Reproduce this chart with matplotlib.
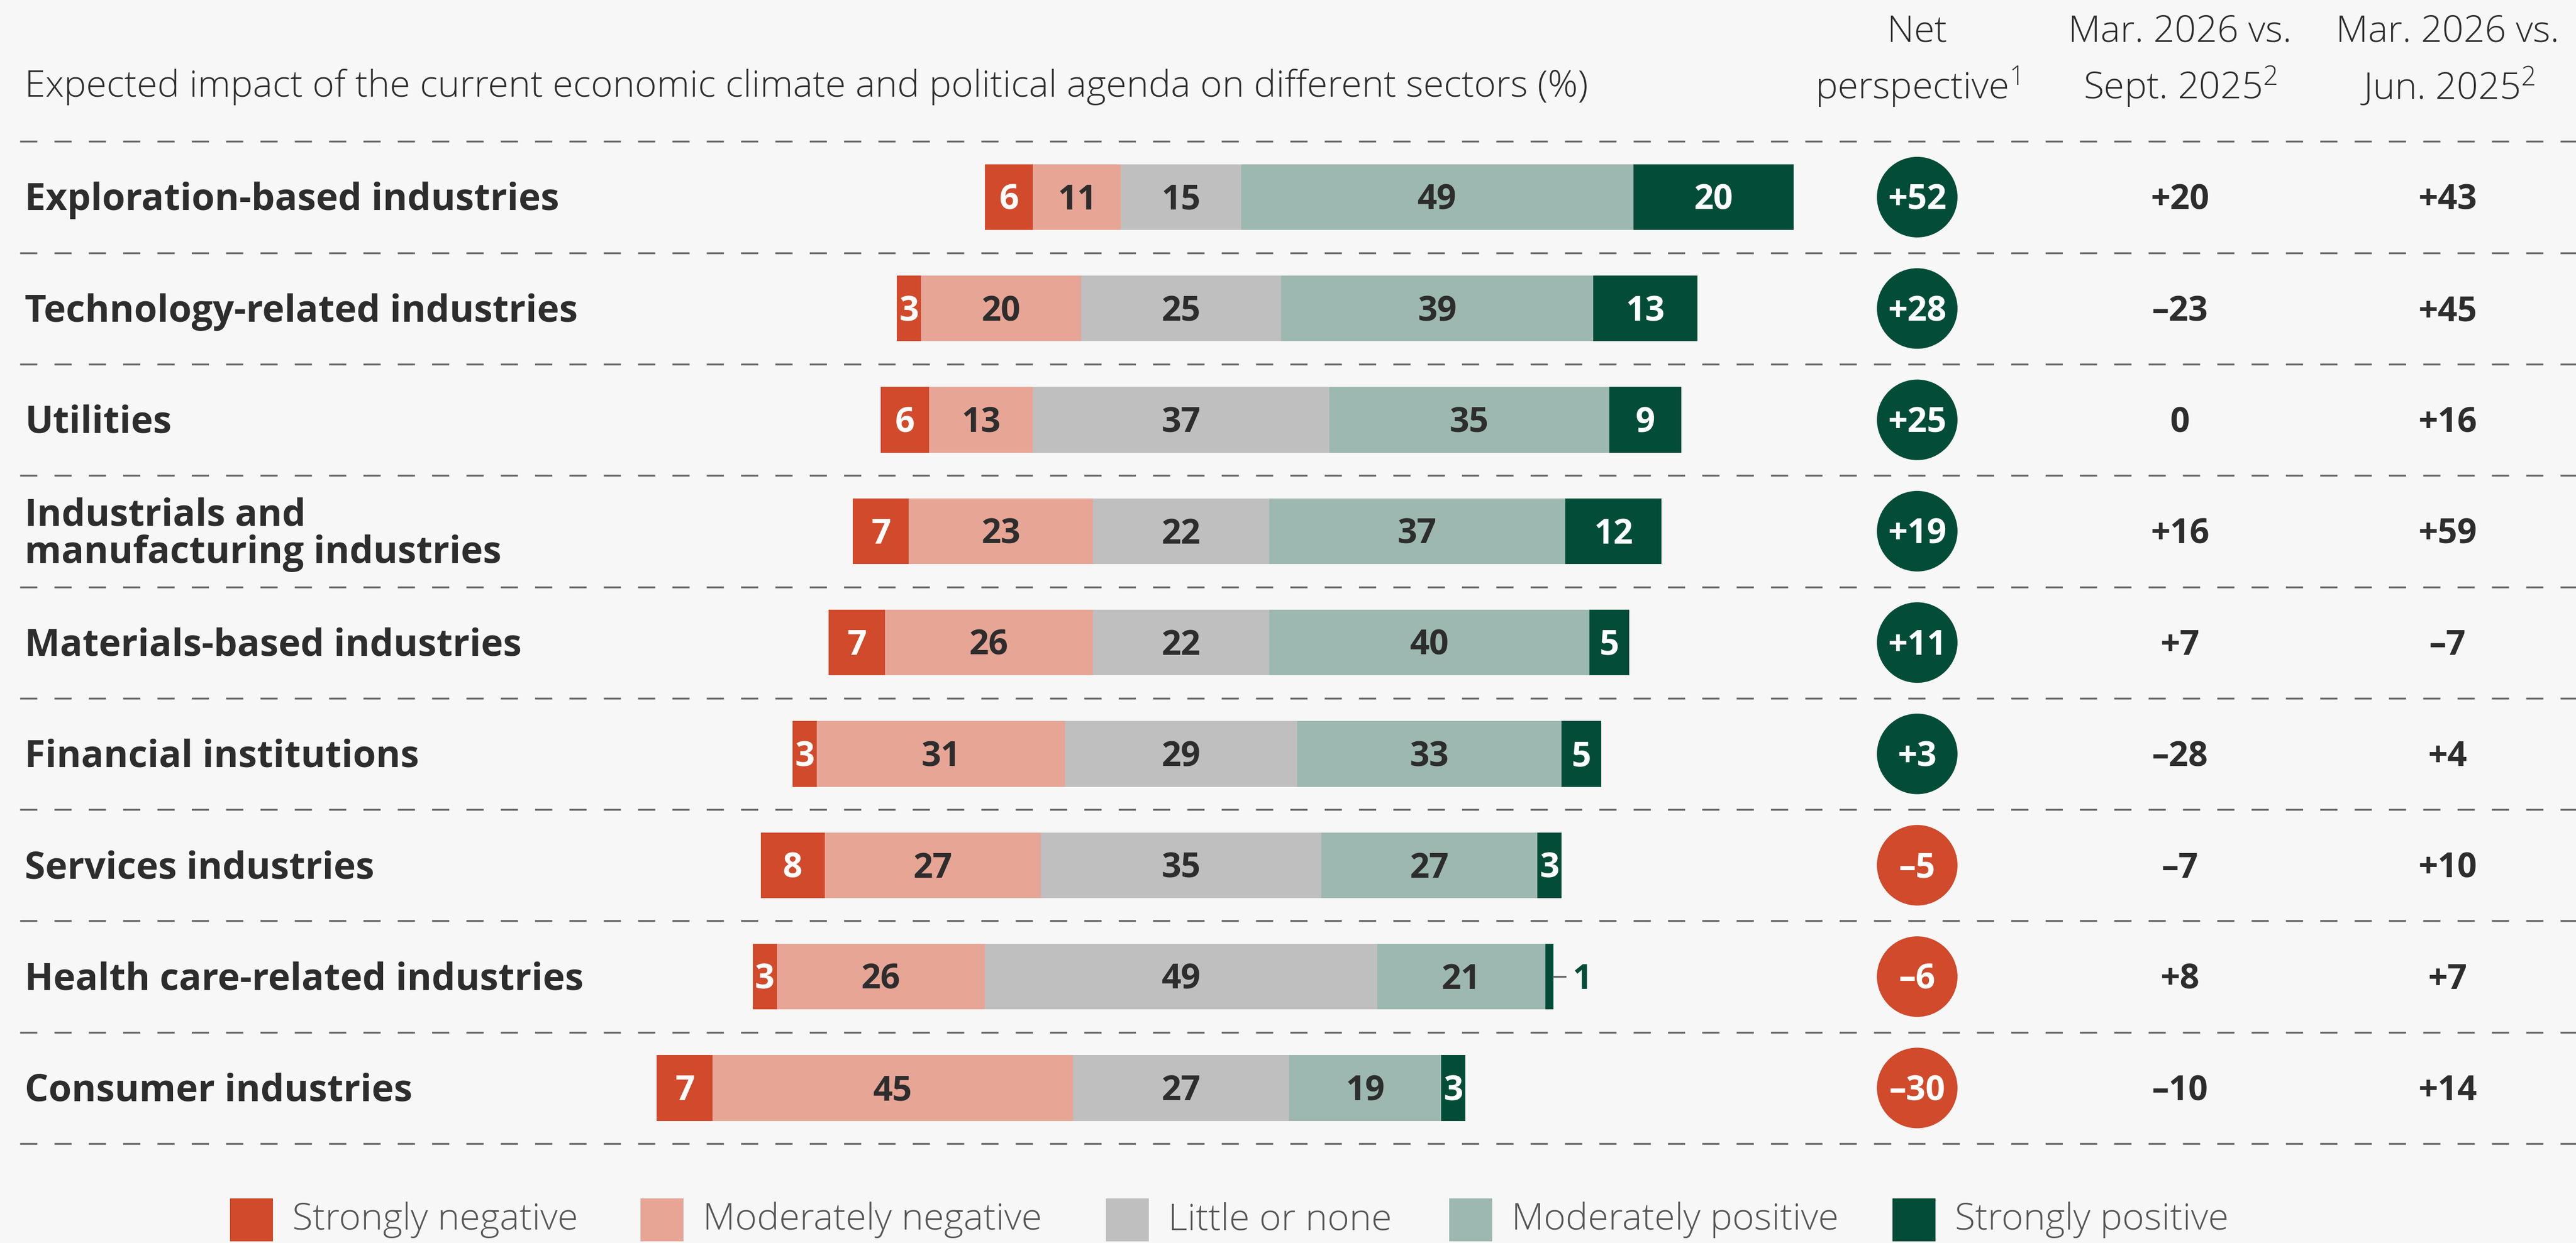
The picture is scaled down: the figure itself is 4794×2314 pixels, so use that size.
import matplotlib
matplotlib.use("Agg")
import matplotlib.pyplot as plt
from matplotlib import transforms
from matplotlib.patches import Rectangle

plt.rcParams["font.family"] = ["Open Sans", "DejaVu Sans"]
plt.rcParams["mathtext.fontset"] = "custom"
plt.rcParams["mathtext.rm"] = "Open Sans:light"
plt.rcParams["mathtext.it"] = "Open Sans:light"

sectors = [
    "Exploration-based industries",
    "Technology-related industries",
    "Utilities",
    "Industrials and\nmanufacturing industries",
    "Materials-based industries",
    "Financial institutions",
    "Services industries",
    "Health care-related industries",
    "Consumer industries",
]
strongly_negative = [6, 3, 6, 7, 7, 3, 8, 3, 7]
moderately_negative = [11, 20, 13, 23, 26, 31, 27, 26, 45]
little_or_none = [15, 25, 37, 22, 22, 29, 35, 49, 27]
moderately_positive = [49, 39, 35, 37, 40, 33, 27, 21, 19]
strongly_positive = [20, 13, 9, 12, 5, 5, 3, 1, 3]

net_perspective = [52, 28, 25, 19, 11, 3, -5, -6, -30]
vs_sept_2025 = [20, -23, 0, 16, 7, -28, -7, 8, -10]
vs_jun_2025 = [43, 45, 16, 59, -7, 4, 10, 7, 14]

categories = ["Strongly negative", "Moderately negative", "Little or none",
              "Moderately positive", "Strongly positive"]
colors = ["#D04A2B", "#E7A596", "#BFBFBF", "#9DB8B0", "#034D38"]
label_colors = ["white", "#2D2D2D", "#2D2D2D", "#2D2D2D", "white"]

BG = "#F7F7F7"
DARK = "#2D2D2D"
W, H = 4794, 2314
PX_PER_UNIT = 14.9       # pixels per percentage point
CENTER_PX = 2198         # middle of the "little or none" segment
ROW_PX = 207.3
FIRST_ROW_PX = 367
FS = 50
NUM_FS = 46


def signed(v):
    if v > 0:
        return f"+{v}"
    if v < 0:
        return f"\u2013{-v}"
    return "0"


fig = plt.figure(figsize=(W / 100, H / 100), dpi=100, facecolor=BG)
ax = fig.add_axes([0, 0, 1, 1], facecolor=BG)
ax.set_xlim(-CENTER_PX / PX_PER_UNIT, (W - CENTER_PX) / PX_PER_UNIT)
ax.set_ylim((H - FIRST_ROW_PX) / ROW_PX, -FIRST_ROW_PX / ROW_PX)
ax.axis("off")

series = [strongly_negative, moderately_negative, little_or_none,
          moderately_positive, strongly_positive]
rows = list(range(len(sectors)))

# start each bar so the neutral segment is centred on zero
lefts = [-(sn + mn + ln / 2) for sn, mn, ln in
         zip(strongly_negative, moderately_negative, little_or_none)]

for k, vals in enumerate(series):
    ax.barh(rows, vals, left=lefts, height=0.59, color=colors[k], linewidth=0)
    for i, v in enumerate(vals):
        mid = lefts[i] + v / 2
        if v >= 2:
            ax.text(mid, i + 0.03, str(v), ha="center", va="center",
                    fontsize=NUM_FS, fontweight="bold", color=label_colors[k])
        else:
            end = lefts[i] + v
            ax.plot([end, end + 1.5], [i, i], color="#666666", lw=2.5)
            ax.text(end + 2.4, i + 0.03, str(v), ha="left", va="center",
                    fontsize=NUM_FS, fontweight="bold", color=colors[k])
    lefts = [l + v for l, v in zip(lefts, vals)]

# dashed separators
xfig = transforms.blended_transform_factory(fig.transFigure, ax.transData)
for y in [r - 0.5 for r in rows] + [rows[-1] + 0.5]:
    ax.plot([37 / W, 1], [y, y], transform=xfig, color="#666666", lw=2.5,
            linestyle=(0, (9.2, 9.2)), solid_capstyle="butt")

# sector names
for i, name in enumerate(sectors):
    ax.text(46 / W, i + 0.03, name, transform=xfig, ha="left", va="center",
            fontsize=FS, fontweight="bold", color=DARK, linespacing=1.0)

# net perspective circles and comparison columns
net_x, sept_x, jun_x = 3568 / W, 4057 / W, 4555 / W
ax.scatter([net_x] * len(rows), rows, s=108 ** 2, transform=xfig,
           color=[colors[4] if v > 0 else colors[0] for v in net_perspective],
           linewidths=0, zorder=3)
for i in rows:
    ax.text(net_x, i + 0.03, signed(net_perspective[i]), transform=xfig,
            ha="center", va="center", fontsize=NUM_FS, fontweight="bold",
            color="white", zorder=4)
    ax.text(sept_x, i + 0.03, signed(vs_sept_2025[i]), transform=xfig,
            ha="center", va="center", fontsize=NUM_FS, fontweight="bold",
            color=DARK)
    ax.text(jun_x, i + 0.03, signed(vs_jun_2025[i]), transform=xfig,
            ha="center", va="center", fontsize=NUM_FS, fontweight="bold",
            color=DARK)

# header
y1, y2 = 1 - 60 / H, 1 - 162 / H
fig.text(46 / W, y2, "Expected impact of the current economic climate and "
         "political agenda on different sectors (%)", ha="left", va="center",
         fontsize=FS, fontweight="light", color=DARK)
for x, top, bottom in [(net_x, "Net", r"perspective$^{1}$"),
                       (sept_x, "Mar. 2026 vs.", r"Sept. 2025$^{2}$"),
                       (jun_x, "Mar. 2026 vs.", r"Jun. 2025$^{2}$")]:
    fig.text(x, y1, top, ha="center", va="center", fontsize=FS,
             fontweight="light", color=DARK)
    fig.text(x, y2, bottom, ha="center", va="center", fontsize=FS,
             fontweight="light", color=DARK)

# legend
legend_px = [428, 1192, 2058, 2697, 3522]
for px, cat, c in zip(legend_px, categories, colors):
    fig.patches.append(Rectangle((px / W, 3 / H), 80 / W, 80 / H,
                                 transform=fig.transFigure, color=c, lw=0))
    fig.text((px + 116) / W, 43 / H, cat, ha="left", va="center",
             fontsize=FS, fontweight="light", color="#555555")

fig.savefig("out.png", dpi=100, facecolor=BG)
